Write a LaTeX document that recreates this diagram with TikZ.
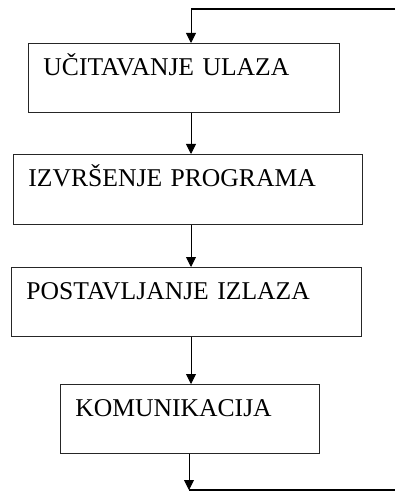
\documentclass[tikz,border=0pt]{standalone}
\usepackage{fontspec}
\setmainfont{Liberation Serif}
\usetikzlibrary{arrows.meta}
\newlength{\du}
\setlength{\du}{1bp}
\tikzset{
  korak/.style={draw=black!85, line width=0.9\du, fill=white, anchor=north west,
    align=left, inner xsep=15\du, inner ysep=0pt, text height=32\du, text depth=37\du,
    font=\fontsize{25.7}{30}\selectfont},
  veza/.style={line width=0.9\du, -{Triangle[width=10bp,length=10bp]}},
  povrat/.style={line width=1.3\du},
}
\begin{document}
\begin{tikzpicture}
\pgftransformxscale{1.000000}
\pgftransformyscale{-1.000000}
\useasboundingbox (0\du,0\du) rectangle (395\du,493\du);
% koraci
\node[korak, text width=281\du] (ulaz) at (28\du,43\du){UČITAVANJE ULAZA};
\node[korak, text width=319\du, text depth=38\du] (program) at (13\du,154\du){IZVRŠENJE PROGRAMA};
\node[korak, text width=320\du] (izlaz) at (11\du,267\du){POSTAVLJANJE IZLAZA};
\node[korak, text width=229\du] (komunikacija) at (60\du,384\du){KOMUNIKACIJA};
% povratna petlja
\coordinate (gore) at (395\du,9\du);
\coordinate (os) at (191\du,9\du);
\coordinate (kraj) at (189\du,490\du);
\coordinate (dolje) at (395\du,490\du);
\draw[povrat] (gore)--(os);
\draw[veza] (os)--(os |- ulaz.north);
\draw[veza] (os |- ulaz.south)--(os |- program.north);
\draw[veza] (os |- program.south)--(os |- izlaz.north);
\draw[veza] (os |- izlaz.south)--(os |- komunikacija.north);
\draw[veza] (kraj |- komunikacija.south)--(kraj);
\draw[povrat] (kraj)--(dolje);
\end{tikzpicture}
\end{document}
